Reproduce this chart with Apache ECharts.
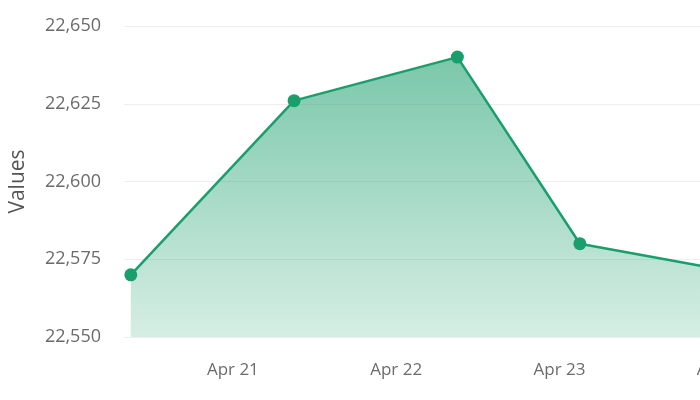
<!DOCTYPE html>
<html>
<head>
<meta charset="utf-8">
<style>
  html, body { margin: 0; padding: 0; overflow: hidden; background: #fff; }
  #main { width: 800px; height: 400px; }
</style>
<script src="https://cdn.jsdelivr.net/npm/echarts@6/dist/echarts.min.js"></script>
</head>
<body>
<div id="main"></div>
<script>
// data
var times = ['2024-04-20 09:00', '2024-04-21 09:00', '2024-04-22 09:00', '2024-04-23 03:00', '2024-04-24 09:00'];
var values = [22570, 22626, 22640, 22580, 22568];
var yTicks = [22550, 22575, 22600, 22625, 22650];

var green = '#1a9f6c';
var DAY = 24 * 3600 * 1000;

var myChart = echarts.init(document.getElementById('main'));

myChart.setOption({
    animation: false,
    grid: { left: 124, right: 16, top: 26, bottom: 63, outerBoundsMode: 'none' },
    xAxis: {
        type: 'time',
        min: new Date(times[0]).getTime() - 3600 * 1000,
        max: 'dataMax',
        minInterval: DAY,
        maxInterval: DAY,
        axisLine: { show: false },
        axisTick: { show: false },
        splitLine: { show: false },
        axisLabel: {
            formatter: '{MMM} {d}',
            color: '#6b6b6b',
            fontFamily: 'Open Sans',
            fontSize: 17,
            margin: 25,
            showMinLabel: false,
            showMaxLabel: false
        }
    },
    yAxis: {
        type: 'value',
        min: yTicks[0],
        max: yTicks[yTicks.length - 1],
        interval: 25,
        name: 'Values',
        nameLocation: 'middle',
        nameGap: 95,
        nameTextStyle: { color: '#555', fontFamily: 'Open Sans', fontSize: 21 },
        axisLine: { show: false },
        axisTick: { show: false },
        splitLine: { lineStyle: { color: '#eeeeee' } },
        axisLabel: {
            color: '#6b6b6b',
            fontFamily: 'Open Sans',
            fontSize: 18,
            margin: 23,
            formatter: function (v) { return v.toLocaleString('en-US'); }
        }
    },
    series: [
        {
            type: 'line',
            data: times.map(function (t, i) { return [t, values[i]]; }),
            symbol: 'circle',
            symbolSize: 13,
            itemStyle: { color: green },
            lineStyle: { color: green, width: 2.5 },
            areaStyle: {
                opacity: 1,
                color: new echarts.graphic.LinearGradient(0, 0, 0, 1, [
                    { offset: 0, color: 'rgba(26,159,108,0.58)' },
                    { offset: 1, color: 'rgba(26,159,108,0.18)' }
                ])
            }
        }
    ]
});
</script>
</body>
</html>
